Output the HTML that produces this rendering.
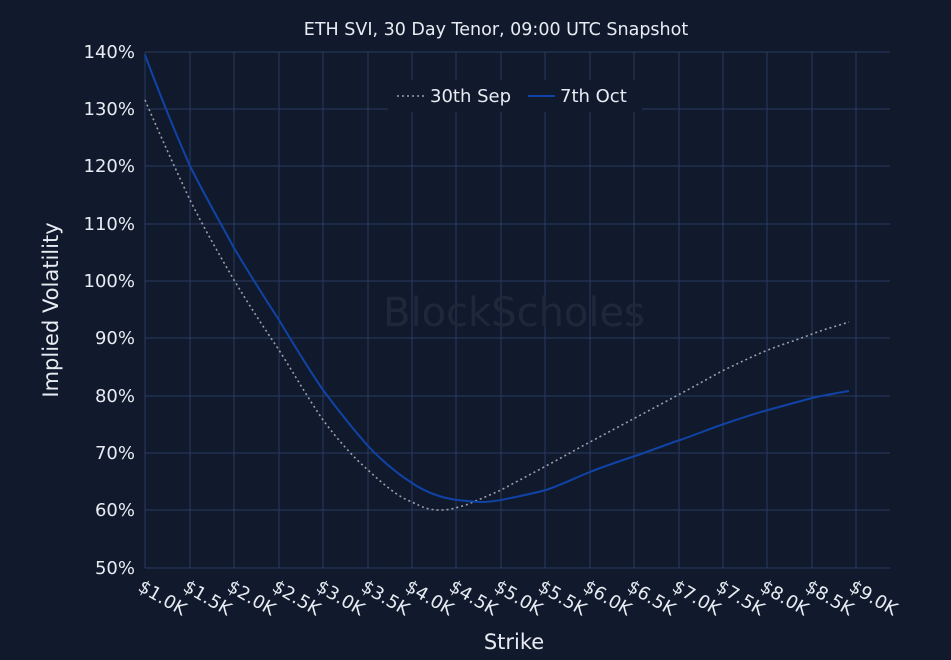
<!DOCTYPE html>
<html><head><meta charset="utf-8"><style>
html,body{margin:0;padding:0;background:#111a2d;}
svg{display:block;font-family:"DejaVu Sans","Liberation Sans",sans-serif;}
</style></head><body>
<svg width="951" height="660" viewBox="0 0 951 660" xmlns="http://www.w3.org/2000/svg">
<rect width="951" height="660" fill="#111a2d"/>
<text x="496" y="35" fill="#e8ecf2" font-size="17.5" text-anchor="middle">ETH SVI, 30 Day Tenor, 09:00 UTC Snapshot</text>
<g stroke="#283a60" stroke-width="1">
<line x1="145" y1="52" x2="890" y2="52"/><line x1="145" y1="109" x2="890" y2="109"/><line x1="145" y1="166" x2="890" y2="166"/><line x1="145" y1="224" x2="890" y2="224"/><line x1="145" y1="281" x2="890" y2="281"/><line x1="145" y1="338" x2="890" y2="338"/><line x1="145" y1="396" x2="890" y2="396"/><line x1="145" y1="453" x2="890" y2="453"/><line x1="145" y1="510" x2="890" y2="510"/><line x1="145" y1="568" x2="890" y2="568"/>
<line x1="145" y1="52" x2="145" y2="568"/><line x1="190" y1="52" x2="190" y2="568"/><line x1="234" y1="52" x2="234" y2="568"/><line x1="279" y1="52" x2="279" y2="568"/><line x1="323" y1="52" x2="323" y2="568"/><line x1="368" y1="52" x2="368" y2="568"/><line x1="412" y1="52" x2="412" y2="568"/><line x1="456" y1="52" x2="456" y2="568"/><line x1="501" y1="52" x2="501" y2="568"/><line x1="545" y1="52" x2="545" y2="568"/><line x1="590" y1="52" x2="590" y2="568"/><line x1="634" y1="52" x2="634" y2="568"/><line x1="679" y1="52" x2="679" y2="568"/><line x1="723" y1="52" x2="723" y2="568"/><line x1="767" y1="52" x2="767" y2="568"/><line x1="812" y1="52" x2="812" y2="568"/><line x1="856" y1="52" x2="856" y2="568"/>
</g>
<text x="514" y="326" fill="#1f283b" font-size="40" text-anchor="middle">BlockScholes</text>
<g fill="#e8ecf2" font-size="18" text-anchor="end">
<text x="135" y="58">140%</text><text x="135" y="115">130%</text><text x="135" y="172">120%</text><text x="135" y="230">110%</text><text x="135" y="287">100%</text><text x="135" y="344">90%</text><text x="135" y="402">80%</text><text x="135" y="459">70%</text><text x="135" y="516">60%</text><text x="135" y="574">50%</text>
</g>
<text transform="translate(58,310) rotate(-90)" fill="#e8ecf2" font-size="21" text-anchor="middle">Implied Volatility</text>
<text x="514" y="649" fill="#e8ecf2" font-size="21" text-anchor="middle">Strike</text>
<g fill="#e8ecf2" font-size="18">
<text transform="translate(137,590) rotate(30)">$1.0K</text><text transform="translate(182,590) rotate(30)">$1.5K</text><text transform="translate(226,590) rotate(30)">$2.0K</text><text transform="translate(271,590) rotate(30)">$2.5K</text><text transform="translate(315,590) rotate(30)">$3.0K</text><text transform="translate(360,590) rotate(30)">$3.5K</text><text transform="translate(404,590) rotate(30)">$4.0K</text><text transform="translate(448,590) rotate(30)">$4.5K</text><text transform="translate(493,590) rotate(30)">$5.0K</text><text transform="translate(537,590) rotate(30)">$5.5K</text><text transform="translate(582,590) rotate(30)">$6.0K</text><text transform="translate(626,590) rotate(30)">$6.5K</text><text transform="translate(671,590) rotate(30)">$7.0K</text><text transform="translate(715,590) rotate(30)">$7.5K</text><text transform="translate(759,590) rotate(30)">$8.0K</text><text transform="translate(804,590) rotate(30)">$8.5K</text><text transform="translate(848,590) rotate(30)">$9.0K</text>
</g>
<path d="M145,100 C160,135 175,168 190,200 C205,230 220,256 234,280 C249,305 264,328 279,350 C294,374 308,398 323,420 C338,440 353,457 368,470 C383,484 398,497 412,502 C422,507 428,510 440,510 C450,510 455,508 466,505 C478,500 490,495 501,490 C516,482 531,474 546,466 C561,458 575,450 590,442 C605,434 620,426 635,418 C650,410 665,402 680,394 C695,386 709,378 724,370 C739,363 753,356 768,350 C783,344 797,340 812,334 C825,329 837,326 849,322" fill="none" stroke="#9aa0aa" stroke-width="1.6" stroke-dasharray="2,3"/>
<path d="M145,55 C160,95 175,132 190,166 C205,196 220,222 234,248 C249,273 264,297 279,320 C294,345 308,368 323,390 C338,410 353,429 368,446 C383,462 398,474 412,483 C427,493 442,498 457,500 C466,501 474,502 482,502 C490,502 495,501 501,500 C516,497 531,494 546,490 C561,485 575,478 590,472 C605,466 620,461 635,456 C650,451 665,445 680,440 C695,435 709,429 724,424 C739,419 753,414 768,410 C783,406 797,402 812,398 C825,395 837,393 849,391" fill="none" stroke="#1043a6" stroke-width="2"/>
<rect x="388" y="80" width="254" height="32" fill="#111a2d"/>
<line x1="397" y1="96" x2="425" y2="96" stroke="#9aa0aa" stroke-width="1.6" stroke-dasharray="2,3"/>
<text x="430" y="102" fill="#e8ecf2" font-size="18">30th Sep</text>
<line x1="528" y1="96" x2="555" y2="96" stroke="#1043a6" stroke-width="2"/>
<text x="560" y="102" fill="#e8ecf2" font-size="18">7th Oct</text>
</svg>
</body></html>
